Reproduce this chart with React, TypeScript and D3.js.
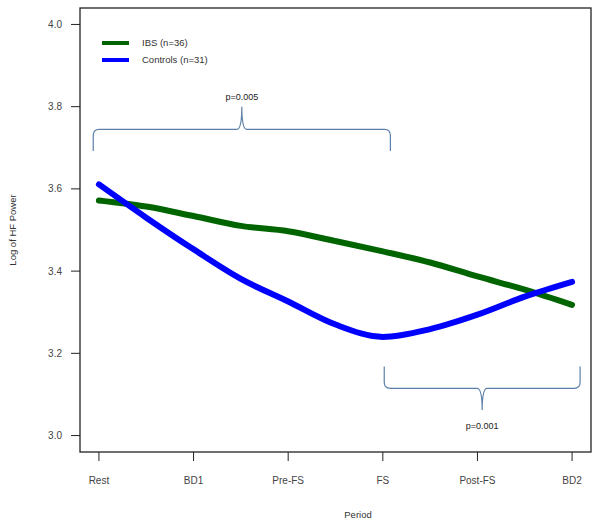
import { useEffect } from 'react'
import * as d3 from 'd3'

// periods on the x axis
const periods = ['Rest', 'BD1', 'Pre-FS', 'FS', 'Post-FS', 'BD2']
// positions (period index) where the smoothed curves were read
const steps = [0, 0.5, 1, 1.5, 2, 2.5, 3, 3.5, 4, 4.5, 5]
const ibs = [3.572, 3.557, 3.534, 3.51, 3.497, 3.473, 3.448, 3.421, 3.387, 3.355, 3.318]
const controls = [3.611, 3.53, 3.453, 3.381, 3.326, 3.27, 3.24, 3.259, 3.294, 3.338, 3.374]
const yTicks = [3.0, 3.2, 3.4, 3.6, 3.8, 4.0]

const seriesNames = ['IBS (n=36)', 'Controls (n=31)']
const seriesColors = ['#006400', '#0000ff']

// significance braces: x span in period index, y of bar, label
const braceFrom = [-0.06, 3.015]
const braceTo = [3.08, 5.085]
const braceBar = [3.745, 3.115]
const braceEnd = [3.692, 3.168]
const braceTip = [3.8, 3.062]
const braceLabelY = [3.823, 3.024]
const braceLabels = ['p=0.005', 'p=0.001']

const W = 600
const H = 526
const left = 80
const right = 591
const top = 8
const bottom = 452
const font = '"Liberation Sans", Arial, sans-serif'

function bracePath(x0: number, x1: number, yEnd: number, yBar: number, yTip: number) {
  const dir = yBar < yEnd ? -1 : 1 // -1: opens downward (bar above ends)
  const r = 6
  const xm = (x0 + x1) / 2
  return [
    `M${x0},${yEnd}`,
    `L${x0},${yBar - dir * r}`,
    `Q${x0},${yBar} ${x0 + r},${yBar}`,
    `L${xm - 5},${yBar}`,
    `Q${xm},${yBar} ${xm},${yTip}`,
    `Q${xm},${yBar} ${xm + 5},${yBar}`,
    `L${x1 - r},${yBar}`,
    `Q${x1},${yBar} ${x1},${yBar - dir * r}`,
    `L${x1},${yEnd}`,
  ].join(' ')
}

export default function App() {
  useEffect(() => {
    document.body.style.margin = '0'
  }, [])

  const x = d3.scaleLinear().domain([-0.2, 5.2]).range([left, right])
  const y = d3.scaleLinear().domain([2.96, 4.04]).range([bottom, top])

  const line = d3
    .line<number>()
    .x((_, i) => x(steps[i]))
    .y((d) => y(d))
    .curve(d3.curveMonotoneX)

  const data = [ibs, controls]

  return (
    <svg width={W} height={H} style={{ display: 'block', background: '#fff' }} fontFamily={font}>
      {/* y axis label */}
      <text
        transform={`translate(16,${(top + bottom) / 2}) rotate(-90)`}
        textAnchor="middle"
        fontSize={9.5}
        fill="#333"
      >
        Log of HF Power
      </text>
      <text x={358} y={518} textAnchor="middle" fontSize={9.5} fill="#333">
        Period
      </text>

      {/* y ticks */}
      {yTicks.map((t) => (
        <g key={t}>
          <line x1={left - 9} x2={left} y1={y(t)} y2={y(t)} stroke="#222" strokeWidth={1} />
          <text x={62} y={y(t)} dy="0.35em" textAnchor="end" fontSize={10} fill="#444">
            {t.toFixed(1)}
          </text>
        </g>
      ))}

      {/* x ticks */}
      {periods.map((p, i) => (
        <g key={p}>
          <line x1={x(i)} x2={x(i)} y1={bottom} y2={bottom + 9} stroke="#222" strokeWidth={1} />
          <text x={x(i)} y={480} dy="0.35em" textAnchor="middle" fontSize={10} fill="#444">
            {p}
          </text>
        </g>
      ))}

      {/* frame */}
      <rect x={left} y={top} width={right - left} height={bottom - top} fill="none" stroke="#222" strokeWidth={1.3} />

      {/* curves */}
      {data.map((d, i) => (
        <path
          key={i}
          d={line(d) ?? ''}
          fill="none"
          stroke={seriesColors[i]}
          strokeWidth={6}
          strokeLinecap="round"
          strokeLinejoin="round"
        />
      ))}

      {/* legend */}
      {seriesNames.map((n, i) => (
        <g key={n} transform={`translate(0,${43 + i * 17})`}>
          <line x1={102} x2={129} y1={0} y2={0} stroke={seriesColors[i]} strokeWidth={4} />
          <text x={142} y={0} dy="0.35em" fontSize={9.5} fill="#333">
            {n}
          </text>
        </g>
      ))}

      {/* braces */}
      {braceLabels.map((lab, i) => {
        const x0 = x(braceFrom[i])
        const x1 = x(braceTo[i])
        return (
          <g key={lab}>
            <path
              d={bracePath(x0, x1, y(braceEnd[i]), y(braceBar[i]), y(braceTip[i]))}
              fill="none"
              stroke="#5b7fa8"
              strokeWidth={1.2}
            />
            <text x={(x0 + x1) / 2} y={y(braceLabelY[i])} dy="0.35em" textAnchor="middle" fontSize={9} fill="#222">
              {lab}
            </text>
          </g>
        )
      })}
    </svg>
  )
}
